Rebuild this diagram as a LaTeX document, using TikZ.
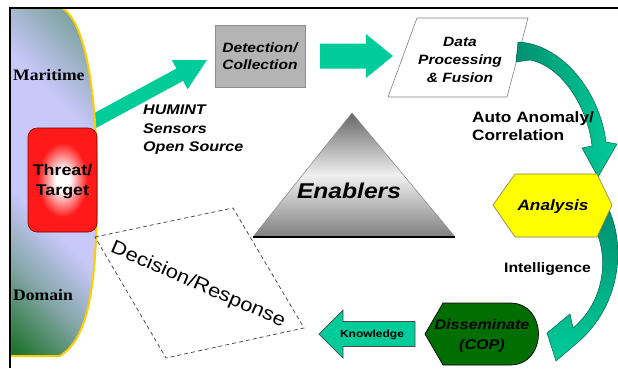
\documentclass[tikz,border=0pt]{standalone}
\usepackage{fontspec}
\usetikzlibrary{calc}
\newfontfamily\lsans[FakeStretch=1.15]{Liberation Sans}
\newfontfamily\lserif[FakeStretch=1.1]{Liberation Serif}
\definecolor{arrowgreen}{RGB}{0,204,153}
\definecolor{arrowdark}{RGB}{0,145,112}
\definecolor{domgreen}{RGB}{30,115,45}
\definecolor{domblue}{RGB}{200,200,250}
\definecolor{domedge}{RGB}{255,204,0}
\definecolor{detgray}{RGB}{180,180,180}
\definecolor{copgreen}{RGB}{0,110,0}
\definecolor{threatred}{RGB}{255,25,25}
\definecolor{hexyellow}{RGB}{255,255,0}

% diagonal green-lavender-green fill of the domain band
\pgfdeclareverticalshading{domainshade}{100bp}{color(0bp)=(domgreen); color(16bp)=(domgreen); color(30bp)=(domgreen!40!domblue); color(42bp)=(domblue); color(64bp)=(domblue); color(84bp)=(domgreen!55!domblue); color(100bp)=(domgreen!55!domblue)}
% white core, red rim
\pgfdeclareradialshading{threatshade}{\pgfpoint{0bp}{0bp}}{color(0bp)=(white); color(5bp)=(white); color(18bp)=(threatred); color(25bp)=(threatred); color(50bp)=(threatred)}

% straight block arrow: style, start, tip, half shaft, half head, head length
\newcommand\blockarrow[6]{%
  \coordinate (ba-b) at ($(#3)!#6!(#2)$);
  \path[#1] ($(#2)!#4!90:(#3)$) -- ($(ba-b)!#4!-90:(#2)$) -- ($(ba-b)!#5!-90:(#2)$)
    -- (#3) -- ($(ba-b)!#5!90:(#2)$) -- ($(ba-b)!#4!90:(#2)$) -- ($(#2)!#4!-90:(#3)$) -- cycle;
}

\begin{document}
\begin{tikzpicture}[x=1pt, y=-1pt,
  txt/.style={inner sep=0pt, align=center},
  bi/.style 2 args={font=\lsans\bfseries\itshape\fontsize{#1}{#2}\selectfont},
  bu/.style 2 args={font=\lsans\bfseries\fontsize{#1}{#2}\selectfont},
  serifbold/.style={font=\lserif\bfseries\fontsize{16}{19}\selectfont},
  flatarrow/.style={fill=arrowgreen},
  curvearrow/.style={draw=arrowdark!70!black, line width=0.5pt},
  threatbox/.style={rectangle, rounded corners=9pt, minimum width=69pt, minimum height=104pt,
    shade, shading=threatshade, draw=red!45!black, line width=0.6pt, inner sep=0pt,
    align=center, text depth=0pt, bu={15.5}{20}},
  detbox/.style={rectangle, minimum width=90pt, minimum height=62pt, fill=detgray,
    draw=black!45, line width=0.6pt, inner sep=0pt, align=center, bi={13.5}{17.5}},
]
\useasboundingbox (0,0) rectangle (618,368);
\fill[white] (0,0) rectangle (618,368);

% arrow out of the domain toward detection
\coordinate (a1s) at (85,126);
\coordinate (a1e) at (207,60);
\blockarrow{flatarrow}{a1s}{a1e}{7pt}{16.5pt}{31pt}

% maritime domain band
\path[shade, shading=domainshade, shading angle=-45, draw=domedge, line width=2pt]
  (10,8) -- (62,8) .. controls (86,22) and (97,95) .. (97,185)
  .. controls (97,290) and (88,338) .. (60,356) -- (10,356) -- cycle;
\node[txt, anchor=base west, serifbold] (maritime) at (13,80) {Maritime};
\node[txt, anchor=base west, serifbold] (domain) at (13,300) {Domain};

\node[threatbox] (threat) at (62.5,180) {Threat/\\Target};

\node[txt, anchor=west, align=left, bi={14}{18.5}] (humint) at (143,130)
  {HUMINT\\Sensors\\Open Source};

% detection / collection
\node[detbox] (detect) at (260,56) {Detection/\\Collection};
\coordinate (a2s) at (320,56);
\coordinate (a2e) at (393,56);
\blockarrow{flatarrow}{a2s}{a2e}{12.5pt}{22pt}{27pt}

% data processing parallelogram
\draw[fill=white, draw=black!50, line width=0.6pt]
  (388,97) -- (417,18) -- (528,18) -- (507,97) -- cycle;
\node[txt, bi={13.5}{18}] (data) at (460,60) {Data\\Processing\\\& Fusion};

% curved arrow to analysis
\shade[curvearrow, left color=arrowdark, right color=arrowgreen]
  (518,42) .. controls (562,44) and (600,92) .. (606,142) -- (617,144) -- (598,177)
  -- (582,148) -- (592,146) .. controls (588,108) and (562,66) .. (530,60) -- (516,62) -- cycle;

\node[txt, anchor=west, align=left, bu={15}{18}] (anomaly) at (472,126.4)
  {Auto Anomaly/\\Correlation};

% curved arrow to dissemination
\shade[curvearrow, top color=arrowdark, bottom color=arrowgreen]
  (609,210) .. controls (625,245) and (622,305) .. (577,343) -- (556,361) -- (547,333)
  -- (570,314) -- (573,328) .. controls (604,302) and (610,258) .. (594,226) -- cycle;

% analysis hexagon
\draw[fill=hexyellow, draw=black!55!yellow, line width=0.6pt]
  (493,205) -- (515,174) -- (597,174) -- (612,205) -- (597,237) -- (515,237) -- cycle;
\node[txt, anchor=base, bi={15}{18}] (analysis) at (553,210.5) {Analysis};

\node[txt, anchor=base, bu={13.7}{16}] (intel) at (547.5,272) {Intelligence};

% disseminate shape
\draw[fill=copgreen, draw=black, line width=0.7pt]
  (425,334) -- (443,303) -- (510,303) .. controls (548,303) and (548,365) .. (510,365)
  -- (443,365) -- cycle;
\node[txt, bi={14}{20}] (dissem) at (482,336.3) {Disseminate\\(COP)};

% knowledge arrow
\coordinate (a3s) at (415,334);
\coordinate (a3e) at (319,334);
\blockarrow{fill=arrowgreen, draw=black!70, line width=0.7pt}{a3s}{a3e}{12.5pt}{24pt}{24pt}
\node[txt, anchor=base, bu={10.4}{12}] (know) at (372,337.7) {Knowledge};

% enablers pyramid
\shade[top color=black!60, bottom color=black!50, middle color=white!94!black]
  (352,113) -- (455,237) -- (253,237) -- cycle;
\draw[black!45, line width=0.6pt] (253,237) -- (352,113) -- (455,237);
\draw[black, line width=1.5pt] (253,237) -- (455,237);
\node[txt, anchor=base, bi={21.4}{24}] (enable) at (349,198) {Enablers};

% decision / response
\draw[dash pattern=on 4pt off 3pt, draw=black!75, line width=0.7pt]
  (95,237) -- (233,208) -- (304,328) -- (166,358) -- cycle;
\node[txt, rotate=-23.5, font=\lsans\fontsize{19}{22}\selectfont] (decision) at (198,285)
  {Decision/Response};

% frame
\draw[black, line width=2.5pt] (10,368) -- (10,8) -- (618,8);
\end{tikzpicture}
\end{document}
